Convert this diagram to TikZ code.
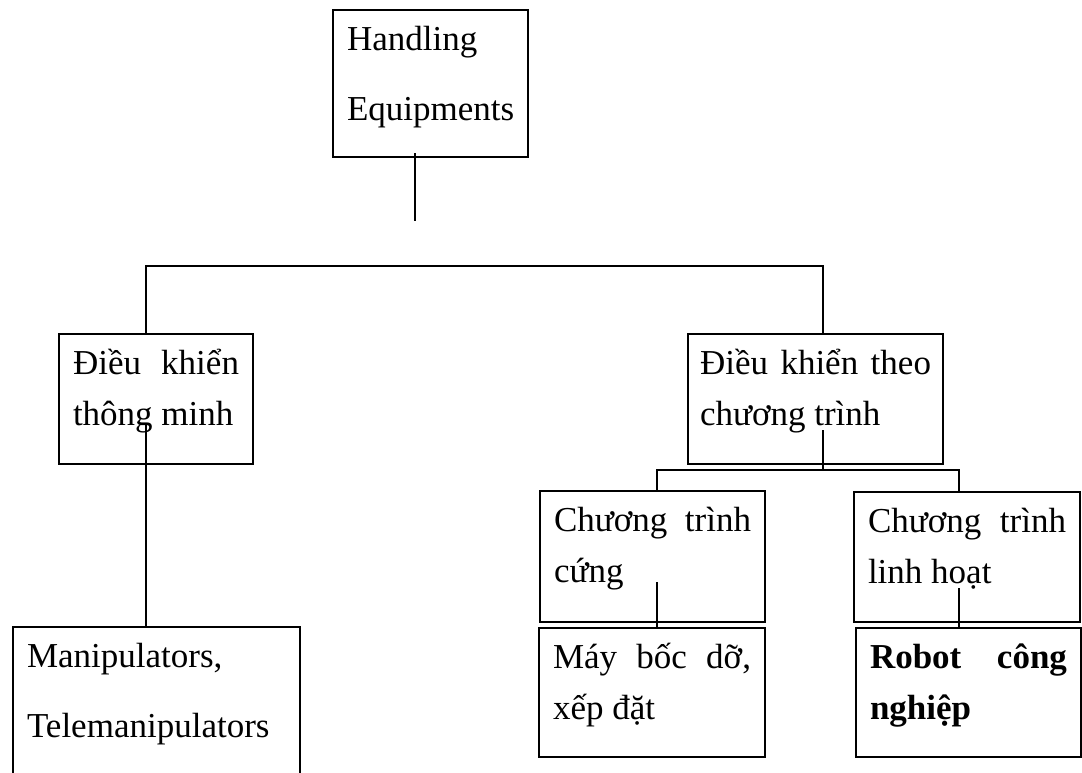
\documentclass[tikz,border=0pt]{standalone}
\usepackage{fontspec}
\setmainfont{Liberation Serif}
\usetikzlibrary{positioning}

\newcommand{\celltext}[3]{\parbox[t][#1][t]{#2}{\hyphenpenalty=10000\rule{0pt}{19pt}#3}}

\begin{document}
\begin{tikzpicture}[x=0.5pt,y=-0.5pt,
    box/.style={draw,line width=1pt,anchor=north west,inner xsep=7pt,inner ysep=1pt,outer sep=0pt,
      font=\fontsize{17.5}{25.5}\selectfont},
    enbox/.style={box,font=\fontsize{17.5}{35}\selectfont},
    link/.style={line width=0.6pt}]
  \useasboundingbox (0,0) rectangle (1082,772);
  \clip (0,0) rectangle (1082,772);

  \node[enbox] (top) at (333,10) {\celltext{71.5pt}{83.5pt}{Handling\\Equipments}};
  \node[box] (tm) at (59,334) {\celltext{63pt}{83pt}{Điều khiển thông minh}};
  \node[box,inner xsep=6pt] (ct) at (688,334) {\celltext{63pt}{115.5pt}{Điều khiển theo chương trình}};
  \node[box] (cung) at (540,491) {\celltext{63.5pt}{98.5pt}{Chương trình cứng}};
  \node[box] (linh) at (854,492) {\celltext{63pt}{99pt}{Chương trình linh hoạt}};
  \node[box] (may) at (539,628) {\celltext{62.5pt}{99pt}{Máy bốc dỡ, xếp đặt}};
  \node[box] (robot) at (856,628) {\celltext{62.5pt}{98.5pt}{\textbf{Robot công nghiệp}}};
  \node[enbox] (manip) at (13,627) {\celltext{88pt}{129.5pt}{Manipulators,\\Telemanipulators}};

  \coordinate (hub) at (415,221);
  \coordinate (bl) at (146,266);
  \coordinate (br) at (823,266);
  \coordinate (tmd) at (146,423);
  \coordinate (ctd) at (823,430);
  \coordinate (sl) at (657,470);
  \coordinate (sr) at (959,470);
  \coordinate (cd) at (657,582);
  \coordinate (ld) at (959,588);

  \draw[link] ([yshift=2pt]top.south -| hub) -- (hub);
  \draw[link] (tm.north -| bl) -- (bl) -- (br) -- (ct.north -| br);
  \draw[link] (tmd) -- (tmd |- manip.north);
  \draw[link] (ctd) -- (ctd |- sl);
  \draw[link] (cung.north -| sl) -- (sl) -- (sr) -- (linh.north -| sr);
  \draw[link] (cd) -- (cd |- may.north);
  \draw[link] (ld) -- (ld |- robot.north);
\end{tikzpicture}
\end{document}
